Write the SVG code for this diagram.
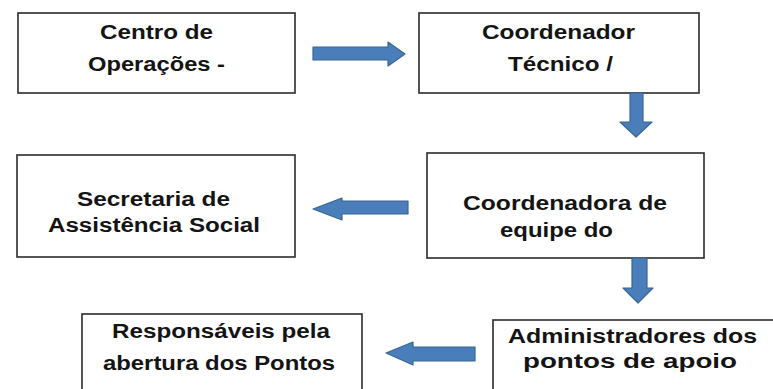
<svg xmlns="http://www.w3.org/2000/svg" width="773" height="389" viewBox="0 0 773 389">
<style>
.box{fill:#fff;stroke:#2b2b2b;stroke-width:1.6}
.t{font-family:"Liberation Sans",Arial,sans-serif;font-weight:bold;font-size:20px;fill:#141414}
.arr{fill:#4a7ebb;stroke:#3a6594;stroke-width:1.2;stroke-linejoin:round}
</style>
<rect width="773" height="389" fill="#fff"/>
<g id="centro">
<rect class="box" x="18" y="13" width="277" height="80"/>
<text class="t" x="100" y="39" textLength="113" lengthAdjust="spacingAndGlyphs">Centro de</text>
<text class="t" x="88" y="71" textLength="137" lengthAdjust="spacingAndGlyphs">Operações -</text>
</g>
<g id="coordenador">
<rect class="box" x="419" y="13" width="280" height="80"/>
<text class="t" x="482" y="39" textLength="153" lengthAdjust="spacingAndGlyphs">Coordenador</text>
<text class="t" x="508" y="71" textLength="105" lengthAdjust="spacingAndGlyphs">Técnico /</text>
</g>
<g id="secretaria">
<rect class="box" x="17" y="155" width="278" height="102"/>
<text class="t" x="77" y="206" textLength="153" lengthAdjust="spacingAndGlyphs">Secretaria de</text>
<text class="t" x="48" y="232" textLength="212" lengthAdjust="spacingAndGlyphs">Assistência Social</text>
</g>
<g id="coordenadora">
<rect class="box" x="427" y="153" width="277" height="105"/>
<text class="t" x="463" y="210" textLength="204" lengthAdjust="spacingAndGlyphs">Coordenadora de</text>
<text class="t" x="500" y="237" textLength="113" lengthAdjust="spacingAndGlyphs">equipe do</text>
</g>
<g id="responsaveis">
<rect class="box" x="82" y="314" width="280" height="90"/>
<text class="t" x="112" y="338" textLength="218" lengthAdjust="spacingAndGlyphs">Responsáveis pela</text>
<text class="t" x="103" y="370" textLength="232" lengthAdjust="spacingAndGlyphs">abertura dos Pontos</text>
</g>
<g id="administradores">
<rect class="box" x="493" y="320" width="300" height="90"/>
<text class="t" x="508" y="343" textLength="249" lengthAdjust="spacingAndGlyphs">Administradores dos</text>
<text class="t" x="523" y="368" textLength="214" lengthAdjust="spacingAndGlyphs">pontos de apoio</text>
</g>
<g id="connectors">
<path class="arr" d="M313,47 L388,47 L388,42 L405,54 L388,66 L388,60 L313,60 Z"/>
<path class="arr" d="M630,93 L643,93 L643,122 L652,122 L636,137 L620,122 L630,122 Z"/>
<path class="arr" d="M408,201 L342,201 L342,198 L313,209 L342,220 L342,214 L408,214 Z"/>
<path class="arr" d="M632,258 L647,258 L647,288 L653,288 L638,303 L623,288 L632,288 Z"/>
<path class="arr" d="M475,347 L413,347 L413,342 L386,353 L413,365 L413,361 L475,361 Z"/>
</g>
</svg>
